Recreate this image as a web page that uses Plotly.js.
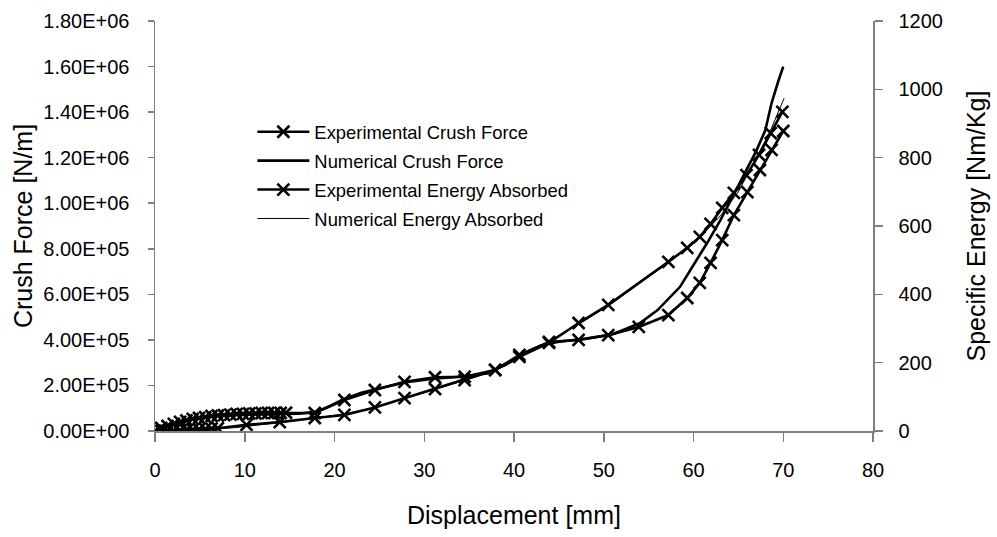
<!DOCTYPE html>
<html>
<head>
<meta charset="utf-8">
<script src="https://cdn.plot.ly/plotly-3.0.1.min.js"></script>
<style>html,body{margin:0;padding:0;background:#fff;}#chart{width:997px;height:537px;}</style>
</head>
<body>
<div id="chart"></div>
<script>
// Displacement [mm] and values
const expForceX = [0,0.7,1.4,2.1,2.8,3.5,4.2,4.9,5.6,6.3,7.0,7.7,8.4,9.1,9.8,10.5,11.2,11.9,12.6,13.3,14.0,14.6,17.8,21.1,24.5,27.8,31.2,34.5,37.9,40.6,43.9,47.2,50.5,53.9,57.2,59.3,60.7,61.9,63.2,64.5,66.0,67.4,68.7,70.0];
const expForce = [0,13000,22000,31000,40000,46000,53000,57000,61000,66000,68000,70000,72000,75000,75000,77000,77000,79000,79000,79000,79000,80000,79000,136000,180000,216000,236000,238000,268000,334000,391000,400000,421000,457000,509000,584000,650000,738000,838000,948000,1049000,1146000,1234000,1317000];

const numForceX = [0,1,2,3,5,7,10,13,16,18,19.5,21,23,25,28,31,34,37,39,41,43,45,48,51,54,56,58.5,60,61.5,63,64.5,66,67,68,68.7,69.4,70];
const numForce = [0,20000,33000,45000,58000,66000,72000,74000,76000,85000,110000,140000,168000,188000,214000,230000,238000,252000,290000,340000,375000,392000,405000,425000,473000,531000,633000,729000,824000,926000,1040000,1150000,1230000,1320000,1440000,1530000,1600000];

const expEnergyX = [0,0.7,1.4,2.1,2.8,3.5,4.2,4.9,5.6,6.3,7.0,10.2,13.9,17.8,21.1,24.5,27.8,31.2,34.5,37.9,40.6,43.9,47.2,50.5,57.2,59.3,60.7,61.9,63.2,64.5,65.9,67.3,68.6,69.9];
const expEnergy = [0,0.5,1,1.5,2,3,4,5,6,7,8,18,26,38,47,69,96,123,149,179,217,258,316,369,495,536,568,606,653,697,749,808,872,934];

const numEnergyX = [0,3,6,9,12,15,18,21,24,27,30,33,36,39,42,45,48,51,54,57,59,61,63,65,67,68.5,70.1];
const numEnergy = [0,2,5,10,18,28,38,50,66,88,112,136,160,190,235,280,325,375,432,490,530,575,630,700,800,875,974];

const seriesNames = ["Experimental Crush Force","Numerical Crush Force","Experimental Energy Absorbed","Numerical Energy Absorbed"];

const xTickVals = [0,10,20,30,40,50,60,70,80];
const leftTickVals = [0,200000,400000,600000,800000,1000000,1200000,1400000,1600000,1800000];
const leftTickText = ["0.00E+00","2.00E+05","4.00E+05","6.00E+05","8.00E+05","1.00E+06","1.20E+06","1.40E+06","1.60E+06","1.80E+06"];
const rightTickVals = [0,200,400,600,800,1000,1200];

const axisGray = '#808080';
const mk = {symbol:'x-thin', size:12, color:'#000', line:{color:'#000', width:2.6}};

const traces = [
  {x:expForceX, y:expForce, name:seriesNames[0], type:'scatter', mode:'lines+markers', yaxis:'y',
   line:{color:'#000', width:2.6}, marker:mk, legendgroup:'a'},
  {x:numForceX, y:numForce, name:seriesNames[1], type:'scatter', mode:'lines', yaxis:'y',
   line:{color:'#000', width:2.6}, legendgroup:'b'},
  {x:expEnergyX, y:expEnergy, name:seriesNames[2], type:'scatter', mode:'lines+markers', yaxis:'y2',
   line:{color:'#000', width:2.6}, marker:mk, legendgroup:'c'},
  {x:numEnergyX, y:numEnergy, name:seriesNames[3], type:'scatter', mode:'lines', yaxis:'y2',
   line:{color:'#000', width:1}, legendgroup:'d'}
];

const layout = {
  width:997, height:537,
  margin:{l:155, r:124, t:21, b:106},
  paper_bgcolor:'#fff', plot_bgcolor:'#fff',
  font:{family:'"Liberation Sans", Arial, sans-serif', color:'#000'},
  showlegend:true,
  legend:{x:0.1356, y:0.775, xanchor:'left', yanchor:'top', bgcolor:'rgba(0,0,0,0)',
          font:{size:18.4}, itemwidth:52, tracegroupgap:2},
  xaxis:{range:[0,80], tickvals:xTickVals, ticks:'outside', ticklen:9, tickwidth:1.5, tickcolor:axisGray,
         showline:true, linecolor:axisGray, linewidth:1.5, showgrid:false, zeroline:false,
         tickfont:{size:20}, ticklabelstandoff:11,
         title:{text:'Displacement [mm]', font:{size:25}, standoff:27}},
  yaxis:{range:[0,1800000], tickvals:leftTickVals, ticktext:leftTickText, ticks:'outside', ticklen:6, tickwidth:1.5,
         tickcolor:axisGray, showline:true, linecolor:axisGray, linewidth:1.5, showgrid:false, zeroline:false,
         tickfont:{size:20}, ticklabelstandoff:14,
         title:{text:'Crush Force [N/m]', font:{size:25}, standoff:3}},
  yaxis2:{range:[0,1200], tickvals:rightTickVals, overlaying:'y', side:'right', ticks:'outside', ticklen:8, tickwidth:1.5,
          tickcolor:axisGray, showline:true, linecolor:axisGray, linewidth:1.5, showgrid:false, zeroline:false,
          tickfont:{size:20}, ticklabelstandoff:12,
          title:{text:'Specific Energy [Nm/Kg]', font:{size:25}, standoff:25}},
  yaxis3:{range:[0,1200], tickvals:rightTickVals, overlaying:'y', side:'right', anchor:'x', ticks:'inside', ticklen:8, tickwidth:1.5,
          tickcolor:axisGray, showline:false, showgrid:false, zeroline:false, showticklabels:false}
};

Plotly.newPlot('chart', traces, layout, {displayModeBar:false, staticPlot:true});
</script>
</body>
</html>
